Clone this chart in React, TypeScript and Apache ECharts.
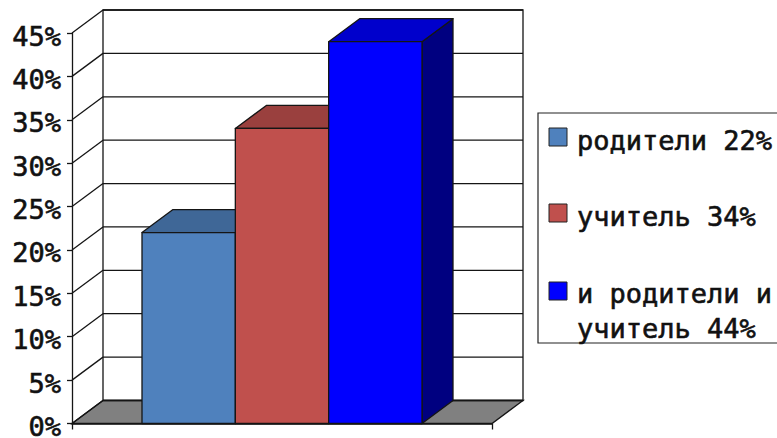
import React, { useEffect, useRef } from "react";
import * as echarts from "echarts";

const categories = [""];
const seriesNames = ["родители", "учитель", "и родители и учитель"];
const seriesValues = [22, 34, 44];
const frontColors = ["#4F81BD", "#C0504D", "#0000FF"];
const topColors = ["#3F6797", "#9A403E", "#0000CC"];
const sideColors = ["#2F4D71", "#73302E", "#000080"];
const yTicks = [0, 5, 10, 15, 20, 25, 30, 35, 40, 45];
const legendLines = [
  { text: "родители 22%", y: 140 },
  { text: "учитель 34%", y: 216 },
  { text: "и родители и", y: 293 },
  { text: "учитель 44%", y: 328 },
];
const legendSwatches = [
  { color: frontColors[0], y: 128 },
  { color: frontColors[1], y: 204 },
  { color: frontColors[2], y: 282 },
];

const DX = 31;
const DY = -23;
const LINE = "#151515";
const MONO = "'DejaVu Sans Mono', monospace";

export default function App() {
  const ref = useRef<HTMLDivElement>(null);
  useEffect(() => {
    document.body.style.margin = "0";
    document.body.style.background = "#fff";
    const chart = echarts.init(ref.current!, null, { renderer: "svg" });

    const wallItem = (params: any, api: any) => {
      const tick = api.value(0);
      const band = api.size([1, 0])[0];
      const center = api.coord([0, tick]);
      const xl = center[0] - band / 2;
      const xr = center[0] + band / 2;
      const y = center[1];
      const top = api.coord([0, 45])[1];
      const bottom = api.coord([0, 0])[1];
      const lineStyle = { stroke: LINE, lineWidth: 1.3, fill: "none" };
      const children: any[] = [];
      if (tick === 0) {
        children.push({
          type: "polygon",
          shape: { points: [[xl, bottom], [xl + DX, bottom + DY], [xl + DX, top + DY], [xl, top]] },
          style: { fill: "#fff", stroke: "none" },
        });
        children.push({
          type: "rect",
          shape: { x: xl + DX, y: top + DY, width: band, height: bottom - top },
          style: { fill: "#fff", stroke: LINE, lineWidth: 1.3 },
        });
        children.push({
          type: "polygon",
          shape: { points: [[xl, bottom], [xl + DX, bottom + DY], [xr + DX, bottom + DY], [xr, bottom]] },
          style: { fill: "#808080", stroke: LINE, lineWidth: 1.3 },
        });
      }
      children.push({ type: "line", shape: { x1: xl, y1: y, x2: xl + DX, y2: y + DY }, style: lineStyle });
      children.push({ type: "line", shape: { x1: xl + DX, y1: y + DY, x2: xr + DX, y2: y + DY }, style: lineStyle });
      return { type: "group", children };
    };

    const barItem = (index: number) => (params: any, api: any) => {
      const val = api.value(1);
      const band = api.size([1, 0])[0];
      const w = band / 4.5;
      const top = api.coord([0, val]);
      const base = api.coord([0, 0]);
      const x = top[0] - 1.5 * w + index * w;
      const y = top[1];
      const y0 = base[1];
      const edge = { stroke: LINE, lineWidth: 1.3, lineJoin: "round" };
      return {
        type: "group",
        children: [
          {
            type: "polygon",
            shape: { points: [[x + w, y], [x + w + DX, y + DY], [x + w + DX, y0 + DY], [x + w, y0]] },
            style: { fill: sideColors[index], ...edge },
          },
          {
            type: "polygon",
            shape: { points: [[x, y], [x + DX, y + DY], [x + w + DX, y + DY], [x + w, y]] },
            style: { fill: topColors[index], ...edge },
          },
          {
            type: "rect",
            shape: { x, y, width: w, height: y0 - y },
            style: { fill: frontColors[index], ...edge },
          },
        ],
      };
    };

    chart.setOption({
      animation: false,
      backgroundColor: "#fff",
      grid: { left: 72, right: 285, top: 33, bottom: 14.5, outerBoundsMode: "none" },
      xAxis: {
        type: "category",
        data: categories,
        z: 5,
        boundaryGap: true,
        axisLine: { lineStyle: { color: LINE, width: 1.5 } },
        axisTick: { show: true, length: 6, lineStyle: { color: LINE, width: 1.3 } },
        axisLabel: { show: false },
      },
      yAxis: {
        type: "value",
        min: 0,
        max: 45,
        interval: 5,
        z: 5,
        axisLine: { show: true, lineStyle: { color: LINE, width: 1.3 } },
        axisTick: { show: true, length: 5, lineStyle: { color: LINE, width: 1.3 } },
        splitLine: { show: false },
        axisLabel: {
          formatter: "{a|{value}%}",
          margin: 11,
          rich: {
            a: {
              fontFamily: MONO,
              fontSize: 27,
              color: "#111",
              textBorderColor: "#111",
              textBorderWidth: 0.6,
              padding: [6, 0, 0, 0],
            },
          },
        },
      },
      series: [
        {
          type: "custom",
          name: "стены",
          z: 1,
          silent: true,
          clip: false,
          renderItem: wallItem,
          encode: { y: 0 },
          data: yTicks.map((t) => [t]),
        },
        ...seriesNames.map((name, i) => ({
          type: "custom",
          name,
          z: 2 + i,
          clip: false,
          renderItem: barItem(i),
          encode: { x: 0, y: 1 },
          data: [[0, seriesValues[i]]],
        })),
      ],
      graphic: [
        {
          type: "rect",
          shape: { x: 538, y: 113, width: 260, height: 230 },
          style: { fill: "#fff", stroke: "#222", lineWidth: 1.2 },
          z: 10,
        },
        ...legendSwatches.map((s) => ({
          type: "rect",
          shape: { x: 549, y: s.y, width: 18, height: 18 },
          style: { fill: s.color, stroke: "#222", lineWidth: 1 },
          z: 11,
        })),
        ...legendLines.map((l) => ({
          type: "text",
          x: 577,
          y: l.y,
          style: {
            text: l.text,
            fontFamily: MONO,
            fontSize: 27,
            fill: "#111",
            stroke: "#111",
            lineWidth: 0.6,
            verticalAlign: "middle",
          },
          z: 11,
        })),
      ],
    });
    return () => chart.dispose();
  }, []);
  return <div ref={ref} style={{ width: 777, height: 438 }} />;
}
